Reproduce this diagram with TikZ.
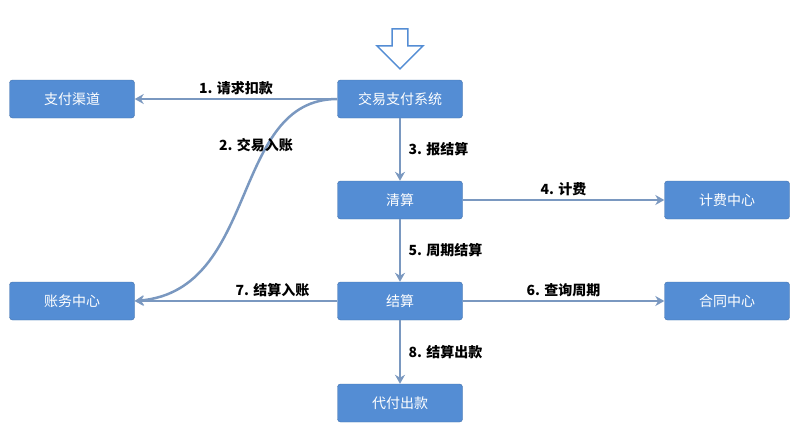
\documentclass[tikz,border=0pt]{standalone}
\usepackage{fontspec}
\setmainfont{Noto Sans CJK SC}
\usetikzlibrary{arrows.meta,shapes.arrows}
\definecolor{boxblue}{RGB}{84,141,212}
\definecolor{linkblue}{RGB}{122,152,192}
\begin{document}
\begin{tikzpicture}[
        x=1pt, y=-1pt,
        box/.style={draw=boxblue!80!black, fill=boxblue, rounded corners=3pt, minimum width=125pt,
            minimum height=38pt, text=white, font=\fontsize{14}{16}\selectfont},
        link/.style={draw=linkblue, line width=2.5pt, -{Stealth[length=9pt,width=10pt]}},
        lbl/.style={font=\fontsize{14}{16}\selectfont\bfseries, text=black},
    ]
    \useasboundingbox (0,0) rectangle (800,434);
    \node[box](pay) at (72,99){支付渠道};
    \node[box](trade) at (400,99){交易支付系统};
    \node[box](clear) at (400,200){清算};
    \node[box](fee) at (727,200){计费中心};
    \node[box](acct) at (72,301){账务中心};
    \node[box](settle) at (400,301){结算};
    \node[box](contract) at (727,301){合同中心};
    \node[box](payout) at (400,403){代付出款};
    % entry arrow
    \node[draw=boxblue, line width=1.5pt, fill=white, single arrow, shape border rotate=270,
        minimum height=40pt, minimum width=46pt, single arrow head extend=8pt](entry) at (400,45){};
    % connectors
    \draw[link] (trade) -- node[lbl, above]{1. 请求扣款} (pay);
    \draw[link] (trade.west) .. controls (230,99) and (260,290) .. (acct.east);
    \node[lbl] (l2) at (256,145){2. 交易入账};
    \draw[link] (trade) -- node[lbl, right=4pt]{3. 报结算} (clear);
    \draw[link] (clear) -- node[lbl, above]{4. 计费} (fee);
    \draw[link] (clear) -- node[lbl, right=4pt]{5. 周期结算} (settle);
    \draw[link] (settle) -- node[lbl, above]{6. 查询周期} (contract);
    \draw[link] (settle) -- node[lbl, above, pos=0.32]{7. 结算入账} (acct);
    \draw[link] (settle) -- node[lbl, right=4pt]{8. 结算出款} (payout);
\end{tikzpicture}
\end{document}
